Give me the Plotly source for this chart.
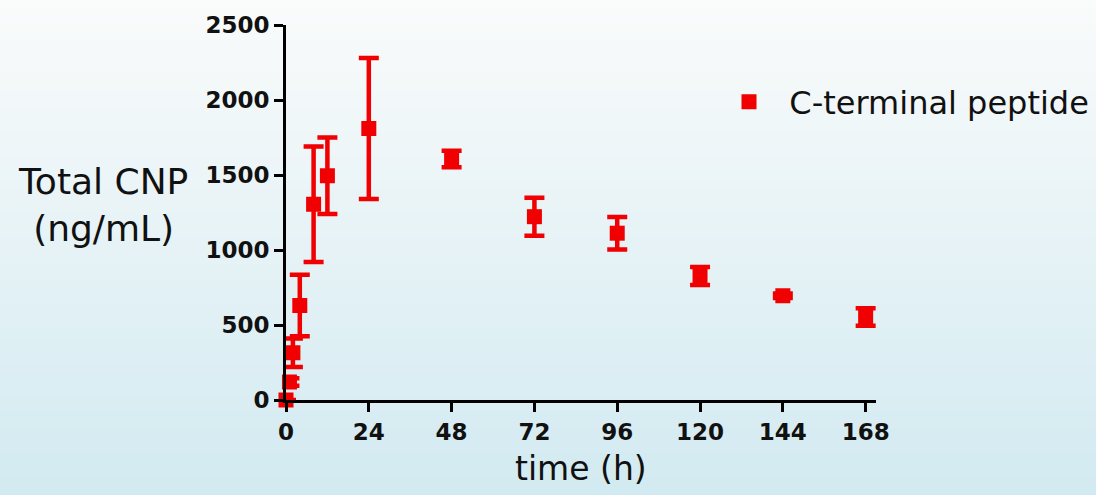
import plotly.graph_objects as go

# ---- data ----
time_h = [0, 1, 2, 4, 8, 12, 24, 48, 72, 96, 120, 144, 168]
cnp_mean = [0, 120, 315, 630, 1305, 1495, 1810, 1607, 1222, 1112, 827, 695, 553]
cnp_sd = [0, 25, 95, 205, 385, 255, 470, 55, 127, 108, 60, 15, 58]
series_name = "C-terminal peptide"
x_ticks = [0, 24, 48, 72, 96, 120, 144, 168]
y_ticks = [0, 500, 1000, 1500, 2000, 2500]

W, H = 1096, 495
L, R, T, B = 286, 220, 25, 95
pw, ph = W - L - R, H - T - B

RED = "#f00000"

fig = go.Figure()
fig.add_trace(go.Scatter(
    x=time_h, y=cnp_mean, mode="markers", name="\u00a0\u00a0" + series_name,
    marker=dict(symbol="square", size=15, color=RED),
    error_y=dict(type="data", array=cnp_sd, visible=True, color=RED,
                 thickness=4.5, width=10),
    cliponaxis=False,
))

# vertical background gradient built from thin bands
shapes = []
n = 60
top = (250, 251, 251)
bot = (210, 234, 241)
for i in range(n):
    y0p = i * H / n
    y1p = (i + 1) * H / n
    f = (i + 0.5) / n
    c = tuple(int(round(top[k] + (bot[k] - top[k]) * f)) for k in range(3))
    shapes.append(dict(
        type="rect", xref="paper", yref="paper", layer="below",
        x0=-L / pw - 0.01, x1=(W - L) / pw + 0.01,
        y0=(H - B - y1p) / ph - 0.002, y1=(H - B - y0p) / ph + 0.002,
        line=dict(width=0), fillcolor="rgb(%d,%d,%d)" % c,
    ))

tickfont = dict(family="DejaVu Sans", size=23, color="#111111", weight="bold")

fig.update_layout(
    width=W, height=H,
    margin=dict(l=L, r=R, t=T, b=B, autoexpand=False),
    paper_bgcolor="rgb(232,243,246)",
    plot_bgcolor="rgba(0,0,0,0)",
    shapes=shapes,
    showlegend=True,
    legend=dict(
        x=(729 - L) / pw, y=(H - B - 102) / ph, xanchor="left", yanchor="middle",
        font=dict(family="DejaVu Sans", size=32, color="#111111"),
        bgcolor="rgba(0,0,0,0)", itemsizing="trace",
    ),
    xaxis=dict(
        range=[0, 171], tickvals=x_ticks, ticktext=[str(v) for v in x_ticks],
        showgrid=False, zeroline=False, showline=True, linecolor="black",
        linewidth=3, ticks="outside", ticklen=9, tickwidth=3, tickcolor="black",
        tickfont=tickfont,
    ),
    yaxis=dict(
        range=[0, 2500], tickvals=y_ticks, ticktext=[str(v) for v in y_ticks],
        showgrid=False, zeroline=False, showline=True, linecolor="black",
        linewidth=3, ticks="outside", ticklen=9, tickwidth=3, tickcolor="black",
        tickfont=tickfont,
    ),
    annotations=[
        dict(text="Total CNP<br>(ng/mL)", xref="paper", yref="paper",
             x=(103 - L) / pw, y=(H - B - 205) / ph, xanchor="center",
             yanchor="middle", showarrow=False, align="center",
             font=dict(family="DejaVu Sans", size=36, color="#111111")),
        dict(text="time (h)", xref="paper", yref="paper",
             x=0.5, y=(H - B - 468) / ph, xanchor="center", yanchor="middle",
             showarrow=False,
             font=dict(family="DejaVu Sans", size=33, color="#111111")),
    ],
)

fig.write_html(
    "out.html",
    config={"displayModeBar": False},
    post_script="document.body.style.margin='0';document.body.style.padding='0';"
                "document.documentElement.style.overflow='hidden';",
)
